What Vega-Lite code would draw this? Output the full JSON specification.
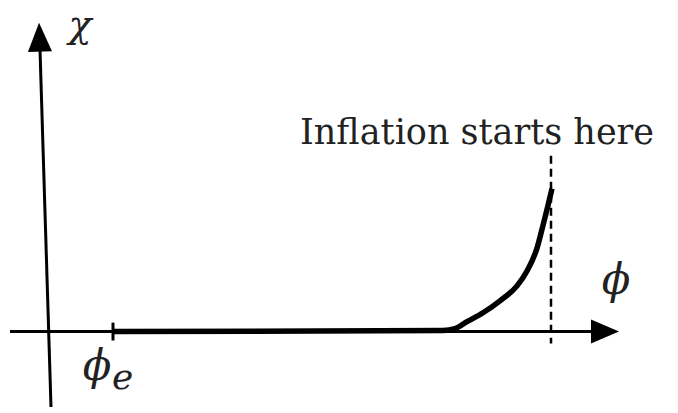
{
 "$schema": "https://vega.github.io/schema/vega-lite/v6.json",
 "width": 678, "height": 413,
 "autosize": {"type": "fit", "contains": "padding"},
 "padding": 0,
 "background": "white",
 "config": {"view": {"stroke": null}},
 "datasets": {
  "axes": [
   {"seg": "h", "x": -39, "y": 0}, {"seg": "h", "x": 545, "y": 0},
   {"seg": "v", "x": 2, "y": -76}, {"seg": "v", "x": -9, "y": 284}
  ],
  "harrow": [{"x": 556, "y": 0}],
  "varrow": [{"x": -9.5, "y": 296.5}],
  "tick": [{"x": 64, "y": 9, "y2": -9}],
  "dash": [{"x": 502, "y": 177, "y2": -12}],
  "curve": [
   {"x": 64, "y": 0}, {"x": 394, "y": 1}, {"x": 406, "y": 3}, {"x": 418, "y": 10},
   {"x": 434, "y": 19}, {"x": 451, "y": 31}, {"x": 468, "y": 46}, {"x": 478, "y": 61},
   {"x": 488, "y": 84}, {"x": 494, "y": 107}, {"x": 499, "y": 127}, {"x": 503, "y": 144}
  ],
  "note": [{"x": 251, "y": 189, "label": "Inflation starts here"}],
  "chi": [{"x": 31, "y": 297, "label": "χ"}],
  "sym": [
   {"x": 567, "y": 38, "label": "ϕ"},
   {"x": 48, "y": -49, "label": "ϕ"}
  ],
  "sub": [{"x": 63, "y": -58, "label": "e"}]
 },
 "encoding": {
  "x": {"field": "x", "type": "quantitative", "scale": {"domain": [-49, 629], "nice": false, "zero": false}, "axis": null},
  "y": {"field": "y", "type": "quantitative", "scale": {"domain": [-79, 334], "nice": false, "zero": false}, "axis": null}
 },
 "layer": [
  {"data": {"name": "axes"}, "mark": {"type": "line", "color": "black", "strokeWidth": 3}, "encoding": {"detail": {"field": "seg"}}},
  {"data": {"name": "harrow"}, "mark": {"type": "point", "shape": "M 1 0 L -1 -0.857 L -1 0.857 Z", "size": 784, "filled": true, "color": "black", "opacity": 1}},
  {"data": {"name": "varrow"}, "mark": {"type": "point", "shape": "M 0 -1 L 0.83 1 L -0.83 1 Z", "size": 841, "angle": -1.8, "filled": true, "color": "black", "opacity": 1}},
  {"data": {"name": "tick"}, "mark": {"type": "rule", "color": "black", "strokeWidth": 3}, "encoding": {"y2": {"field": "y2"}}},
  {"data": {"name": "dash"}, "mark": {"type": "rule", "color": "black", "strokeWidth": 2.5, "strokeDash": [8, 5]}, "encoding": {"y2": {"field": "y2"}}},
  {"data": {"name": "curve"}, "mark": {"type": "line", "color": "black", "strokeWidth": 5.5, "interpolate": "monotone", "strokeCap": "butt"}},
  {"data": {"name": "note"}, "mark": {"type": "text", "align": "left", "baseline": "alphabetic", "font": "DejaVu Serif", "fontSize": 35, "color": "#222"}, "encoding": {"text": {"field": "label"}}},
  {"data": {"name": "chi"}, "mark": {"type": "text", "align": "center", "baseline": "alphabetic", "font": "DejaVu Serif", "fontStyle": "italic", "fontSize": 38, "color": "#222"}, "encoding": {"text": {"field": "label"}}},
  {"data": {"name": "sym"}, "mark": {"type": "text", "align": "center", "baseline": "alphabetic", "font": "DejaVu Serif", "fontStyle": "italic", "fontSize": 42, "color": "#222"}, "encoding": {"text": {"field": "label"}}},
  {"data": {"name": "sub"}, "mark": {"type": "text", "align": "left", "baseline": "alphabetic", "font": "DejaVu Serif", "fontStyle": "italic", "fontSize": 36, "color": "#222"}, "encoding": {"text": {"field": "label"}}}
 ]
}
